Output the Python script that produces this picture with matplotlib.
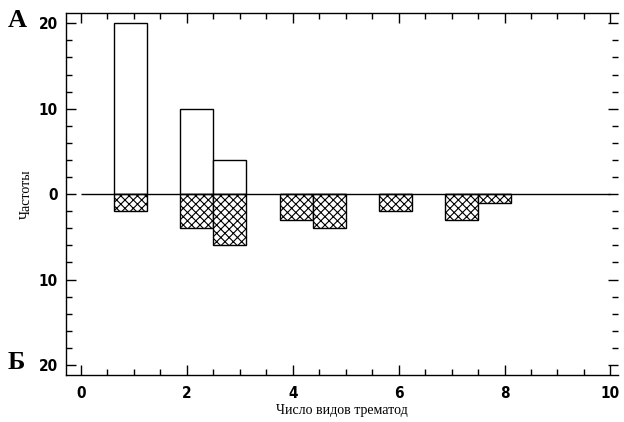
import numpy as np
import matplotlib.pyplot as plt
from matplotlib.ticker import MultipleLocator, FuncFormatter

# bins of width 0.625 (16 bins over 0..10)
bin_left = [0.625, 1.875, 2.5, 3.75, 4.375, 5.625, 6.875, 7.5]
bin_width = 0.625
freq_a = [20, 10, 4, 0, 0, 0, 0, 0]
freq_b = [2, 4, 6, 3, 4, 2, 3, 1]

plt.rcParams['hatch.linewidth'] = 0.8

fig = plt.figure(figsize=(6.24, 4.22), dpi=100)
ax = fig.add_axes([0.106, 0.111, 0.885, 0.858])

ax.bar(bin_left, freq_a, width=bin_width, align='edge',
       facecolor='white', edgecolor='black', linewidth=1.0)
ax.bar(bin_left, [-v for v in freq_b], width=bin_width, align='edge',
       facecolor='white', edgecolor='black', linewidth=1.0, hatch='xxxx')
ax.hlines(0, 0, 10, color='black', linewidth=1.0)

ax.set_xlim(-0.28, 10.15)
ax.set_ylim(-21.2, 21.2)

ax.xaxis.set_major_locator(MultipleLocator(2))
ax.xaxis.set_minor_locator(MultipleLocator(0.5))
ax.yaxis.set_major_locator(MultipleLocator(10))
ax.yaxis.set_minor_locator(MultipleLocator(2))
ax.yaxis.set_major_formatter(FuncFormatter(lambda v, p: f"{abs(v):.0f}"))

ax.tick_params(which='both', direction='in', top=True, right=True, width=1.0)
ax.tick_params(which='both', axis='y', right=True)
ax.tick_params(which='major', length=7)
ax.tick_params(which='minor', length=4)
for lab in ax.get_xticklabels() + ax.get_yticklabels():
    lab.set_family('DejaVu Sans')
    lab.set_stretch('condensed')
    lab.set_fontweight('bold')
    lab.set_fontsize(11)
ax.tick_params(axis='x', pad=8)
ax.tick_params(axis='y', pad=6)

for s in ax.spines.values():
    s.set_linewidth(1.0)
ax.spines['right'].set_visible(False)
for t in ax.yaxis.get_ticklines(minor=False)[1::2]:
    t.set_color('#888888')
for t in ax.yaxis.get_ticklines(minor=True)[1::2]:
    t.set_color('#888888')

ax.set_xlabel("Число видов трематод", family='Liberation Serif', fontsize=10, labelpad=2)
ax.set_ylabel("Частоты", family='Liberation Serif', fontsize=10, labelpad=4)

fig.text(0.012, 0.935, "А", family='Liberation Serif', fontweight='bold', fontsize=19)
fig.text(0.012, 0.125, "Б", family='Liberation Serif', fontweight='bold', fontsize=19)

fig.savefig("out.png", dpi=100)
